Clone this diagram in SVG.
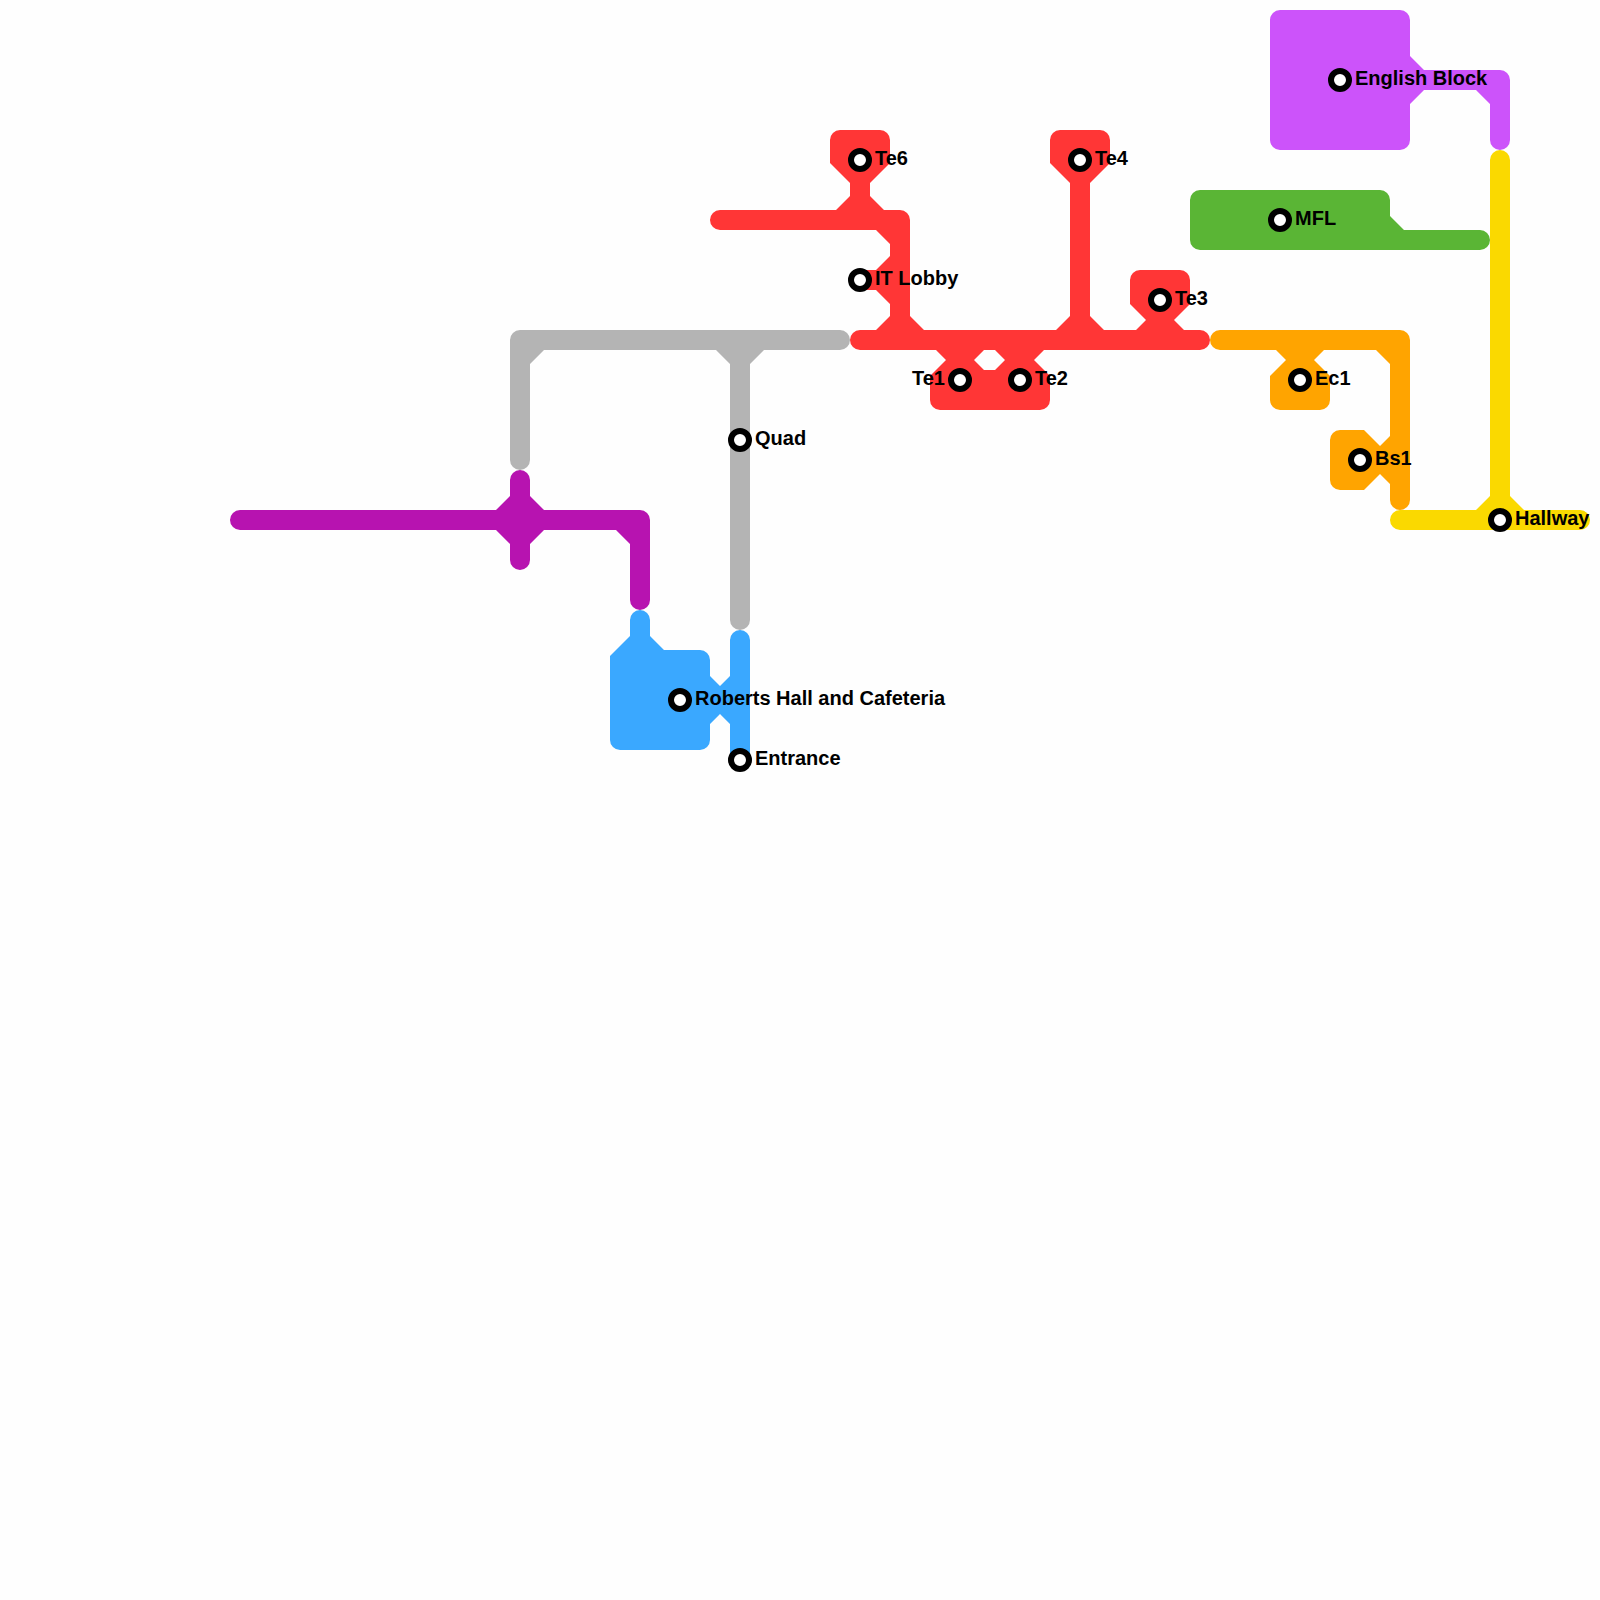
<svg xmlns="http://www.w3.org/2000/svg" width="1600" height="1600" viewBox="0 0 1600 1600">
<style>
.st{fill:#fff;stroke:#000;stroke-width:6}
text{font-family:"Liberation Sans",Arial,sans-serif;font-weight:700;font-size:20px;fill:#000}
</style>
<rect width="1600" height="1600" fill="#fefefe"/>
<g id="connectors" fill-rule="evenodd">
<path id="line-grey" fill="#b4b4b4" d="M520 330A10 10 0 0 0 510 340V460A10 10 0 0 0 530 460V364L544 350H716L730 364V620A10 10 0 0 0 750 620V364L764 350H840A10 10 0 0 0 840 330Z"/>
<path id="line-magenta" fill="#b713b0" d="M240 510H496L510 496V480A10 10 0 0 1 530 480V496L544 510H640A10 10 0 0 1 650 520V600A10 10 0 0 1 630 600V544L616 530H544L530 544V560A10 10 0 0 1 510 560V544L496 530H240A10 10 0 0 1 240 510Z"/>
<path id="line-blue" fill="#3aa8ff" d="M610 656L630 636V620A10 10 0 0 1 650 620V636L664 650H700A10 10 0 0 1 710 660V676L720 686L730 676V640A10 10 0 0 1 750 640V760H730V724L720 714L710 724V740A10 10 0 0 1 700 750H620A10 10 0 0 1 610 740Z"/>
<path id="line-red" fill="#ff3636" d="M720 210H836L850 196V183L830 163V140A10 10 0 0 1 840 130H880A10 10 0 0 1 890 140V163L870 183V196L884 210H900A10 10 0 0 1 910 220V316L924 330H1056L1070 316V183L1050 163V140A10 10 0 0 1 1060 130H1100A10 10 0 0 1 1110 140V163L1090 183V316L1104 330H1136L1146 320L1130 304V280A10 10 0 0 1 1140 270H1180A10 10 0 0 1 1190 280V304L1174 320L1184 330H1200A10 10 0 0 1 1200 350H1044L1034 360L1050 376V400A10 10 0 0 1 1040 410H940A10 10 0 0 1 930 400V376L946 360L936 350H860A10 10 0 0 1 860 330H876L890 316V304L876 290H860V270H876L890 256V244L876 230H720A10 10 0 0 1 720 210ZM974 360L984 350H995L1005 360L995 370H984Z"/>
<path id="line-orange" fill="#ffa400" d="M1220 330H1400A10 10 0 0 1 1410 340V500A10 10 0 0 1 1390 500V484L1380 474L1364 490H1340A10 10 0 0 1 1330 480V440A10 10 0 0 1 1340 430H1364L1380 446L1390 436V364L1376 350H1324L1314 360L1330 376V400A10 10 0 0 1 1320 410H1280A10 10 0 0 1 1270 400V376L1286 360L1276 350H1220A10 10 0 0 1 1220 330Z"/>
<path id="line-green" fill="#5ab535" d="M1200 190H1380A10 10 0 0 1 1390 200V216L1404 230H1480A10 10 0 0 1 1480 250H1200A10 10 0 0 1 1190 240V200A10 10 0 0 1 1200 190Z"/>
<path id="line-purple" fill="#cc53fa" d="M1280 10H1400A10 10 0 0 1 1410 20V56L1424 70H1500A10 10 0 0 1 1510 80V140A10 10 0 0 1 1490 140V104L1476 90H1424L1410 104V140A10 10 0 0 1 1400 150H1280A10 10 0 0 1 1270 140V20A10 10 0 0 1 1280 10Z"/>
<path id="line-yellow" fill="#fad900" d="M1490 160A10 10 0 0 1 1510 160V496L1524 510H1580A10 10 0 0 1 1580 530H1400A10 10 0 0 1 1400 510H1476L1490 496Z"/>
</g>
<g id="te6"><circle class="st" cx="860" cy="160" r="9"/><text x="875" y="165">Te6</text></g>
<g id="te4"><circle class="st" cx="1080" cy="160" r="9"/><text x="1095" y="165">Te4</text></g>
<g id="te3"><circle class="st" cx="1160" cy="300" r="9"/><text x="1175" y="305">Te3</text></g>
<g id="it-lobby"><circle class="st" cx="860" cy="280" r="9"/><text x="875" y="285">IT Lobby</text></g>
<g id="te1"><circle class="st" cx="960" cy="380" r="9"/><text x="945" y="385" text-anchor="end">Te1</text></g>
<g id="te2"><circle class="st" cx="1020" cy="380" r="9"/><text x="1035" y="385">Te2</text></g>
<g id="quad"><circle class="st" cx="740" cy="440" r="9"/><text x="755" y="445">Quad</text></g>
<g id="roberts"><circle class="st" cx="680" cy="700" r="9"/><text x="695" y="705">Roberts Hall and Cafeteria</text></g>
<g id="entrance"><circle class="st" cx="740" cy="760" r="9"/><text x="755" y="765">Entrance</text></g>
<g id="english"><circle class="st" cx="1340" cy="80" r="9"/><text x="1355" y="85">English Block</text></g>
<g id="mfl"><circle class="st" cx="1280" cy="220" r="9"/><text x="1295" y="225">MFL</text></g>
<g id="ec1"><circle class="st" cx="1300" cy="380" r="9"/><text x="1315" y="385">Ec1</text></g>
<g id="bs1"><circle class="st" cx="1360" cy="460" r="9"/><text x="1375" y="465">Bs1</text></g>
<g id="hallway"><circle class="st" cx="1500" cy="520" r="9"/><text x="1515" y="525">Hallway</text></g>
</svg>
